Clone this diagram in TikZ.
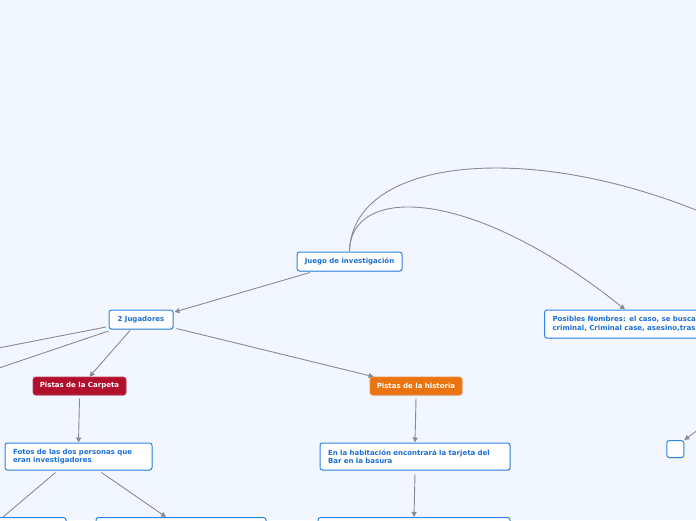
\documentclass[tikz,border=0pt]{standalone}
\usepackage{fontspec}
\setmainfont{DejaVu Sans}
\usetikzlibrary{arrows.meta,shadows,calc}
\definecolor{bg}{HTML}{F2F6FE}
\definecolor{nodeblue}{HTML}{2F86E6}
\definecolor{txtblue}{HTML}{1B6FD8}
\definecolor{edgegray}{HTML}{8A8A94}
\definecolor{carpeta}{HTML}{B20F2C}
\definecolor{historia}{HTML}{EC7410}
\begin{document}
\begin{tikzpicture}[x=1pt,y=-1pt,
  base/.style={rounded corners=2.5pt, inner sep=0pt,
    font=\bfseries\fontsize{7}{8.5}\selectfont,
    drop shadow={shadow xshift=0.5pt, shadow yshift=-0.8pt, opacity=0.25, fill=black!60}},
  box/.style={base, draw=nodeblue, line width=1pt, fill=white, text=txtblue},
  leftbox/.style={box, align=left, inner xsep=8pt, inner ysep=0pt},
  redbox/.style={base, draw=carpeta!80!white, line width=0.6pt, fill=carpeta, text=white},
  orabox/.style={base, draw=historia!80!white, line width=0.6pt, fill=historia, text=white},
  conn/.style={draw=edgegray, line width=0.9pt},
  arr/.style={conn, -{Triangle[length=5pt,width=5pt]}}
]
\useasboundingbox (0,0) rectangle (696,520);
\clip (0,0) rectangle (696,520);
\fill[bg] (0,0) rectangle (696,520);

% nodes
\node[box, minimum width=105pt, minimum height=19pt] (juego) at (349.5,261.5) {Juego de investigación};
\node[box, minimum width=64pt, minimum height=19pt] (jug) at (141,319.5) {2 Jugadores};
\node[redbox, minimum width=93pt, minimum height=18pt] (carp) at (79.5,386) {Pistas de la Carpeta};
\node[orabox, minimum width=92pt, minimum height=18pt] (hist) at (416,386) {Pistas de la historia};
\node[leftbox, text width=131pt, minimum height=27pt] (fotos) at (78.5,456.5) {Fotos de las dos personas que\\eran investigadores};
\node[leftbox, text width=174pt, minimum height=27pt] (hab) at (415,456.5) {En la habitación encontrará la tarjeta del\\Bar en la basura};
\node[leftbox, text width=184pt, minimum height=28pt, anchor=west] (pos) at (544,324) {Posibles Nombres: el caso, se busca,\\criminal, Criminal case, asesino,tras};
\node[box, minimum width=17pt, minimum height=17pt] (small) at (675.3,449) {};
\node[box, minimum width=126pt, minimum height=22pt] (b1) at (3,528.5) {};
\node[box, minimum width=170pt, minimum height=22pt] (b2) at (181,528.5) {};
\node[box, minimum width=192pt, minimum height=22pt] (b3) at (414,528.5) {};

% off-picture ends
\coordinate (offA) at (0,347.7);
\coordinate (offB) at (0,367.7);
\coordinate (offC) at (760,236);
\coordinate (offD) at (710,421);

% connectors
\draw[arr] ($(juego.south)+(-39.5,1)$) -- ($(jug.north east)+(1,2.5)$);
\draw[arr] (juego.north) .. controls (350,185) and (470,185) .. ($(pos.north west)+(81,0)$);
\draw[conn] (juego.north) .. controls (352,160) and (520,140) .. (696,210) -- (offC);
\draw[conn] ($(jug.south west)+(-2.5,-2.5)$) -- (offA);
\draw[conn] ($(jug.south west)+(0,1.5)$) -- (offB);
\draw[arr] ($(jug.south)+(-11,1)$) -- ($(carp.north)+(10,0)$);
\draw[arr] ($(jug.south east)+(3,-1)$) -- ($(hist.north west)+(4,0)$);
\draw[arr] ($(carp.south)+(0,3)$) -- (fotos.north);
\draw[arr] ($(hist.south)+(0,3)$) -- (hab.north);
\draw[conn] ($(fotos.south)+(-23,2)$) -- (b1.north);
\draw[arr] ($(fotos.south)+(23,2)$) -- ($(b2.north)+(-15,0)$);
\draw[arr] ($(hab.south)+(0,3.5)$) -- (b3.north);
\draw[arr] (offD) -- (small.north east);
\end{tikzpicture}
\end{document}
